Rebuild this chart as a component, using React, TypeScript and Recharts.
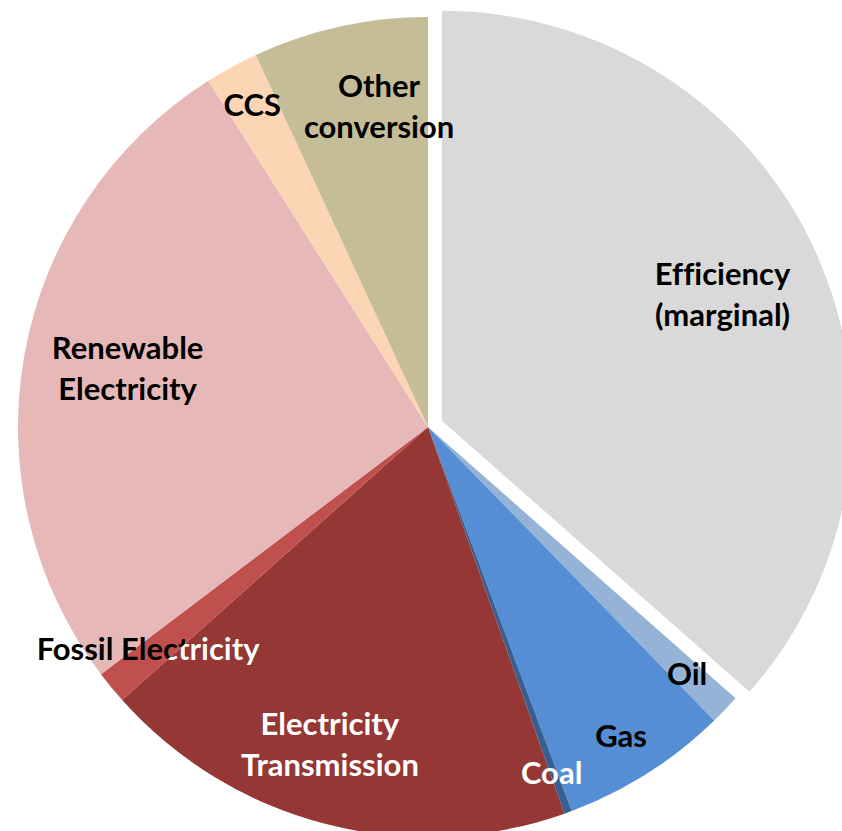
import React from 'react';
import { PieChart, Pie, Cell } from 'recharts';

// ---- data ----
const categories = [
  'Efficiency (marginal)',
  'Oil',
  'Gas',
  'Coal',
  'Electricity Transmission',
  'Fossil Electricity',
  'Renewable Electricity',
  'CCS',
  'Other conversion',
];
const shares = [36.5, 1.2, 6.6, 0.3, 18.8, 1.3, 26.3, 2.1, 6.9];
const labelLines = [
  ['Efficiency', '(marginal)'],
  ['Oil'],
  ['Gas'],
  ['Coal'],
  ['Electricity', 'Transmission'],
  ['Fossil Electricity'],
  ['Renewable', 'Electricity'],
  ['CCS'],
  ['Other', 'conversion'],
];

// ---- style ----
const COLORS = ['#D9D9D9', '#95B3D7', '#558ED5', '#376092', '#953735', '#C0504D', '#E6B9B8', '#FCD5B5', '#C4BD97'];
const LABEL_COLORS = ['#000', '#000', '#000', '#fff', '#fff', '#000', '#000', '#000', '#000'];
// radial fraction and pixel nudge for each label
const LABEL_POS = [
  { f: 0.751, dx: 0, dy: 0 },
  { f: 0.872, dx: 0, dy: 0 },
  { f: 0.888, dx: -2, dy: 1 },
  { f: 0.897, dx: -2, dy: 0 },
  { f: 0.805, dx: -16, dy: -2 },
  { f: 0.871, dx: -4, dy: -5 },
  { f: 0.747, dx: 1, dy: -4 },
  { f: 0.895, dx: 0, dy: 0 },
  { f: 0.793, dx: 21, dy: -3 },
];

const W = 842;
const H = 831;
const CX = 428;
const CY = 427;
const R = 410;
const EXPLODE = 15.3;
const FONT = 'Lato, "Open Sans", sans-serif';
const FS = 31;
const LINE_H = 41;
const RAD = Math.PI / 180;

const allData = categories.map((name, i) => ({ name, value: shares[i] }));
const total = shares.reduce((a, b) => a + b, 0);
const restValue = total - shares[0];
const explodedData = [
  { name: categories[0], value: shares[0] },
  { name: '__rest', value: restValue },
];
const effMid = ((shares[0] / total) * 360) / 2; // clockwise from top
const CX2 = CX + EXPLODE * Math.sin(effMid * RAD);
const CY2 = CY - EXPLODE * Math.cos(effMid * RAD);

const renderLabel = (props: any) => {
  const { cx, cy, midAngle, outerRadius, startAngle } = props;
  const name = props.payload?.name ?? props.name;
  const i = categories.indexOf(name);
  if (i < 0) return null;
  const pos = LABEL_POS[i];
  const r = outerRadius * pos.f;
  const x = cx + r * Math.cos(-midAngle * RAD) + pos.dx;
  const y = cy + r * Math.sin(-midAngle * RAD) + pos.dy;
  const lines = labelLines[i];
  const base = y + FS * 0.36 - ((lines.length - 1) / 2) * LINE_H;
  const mk = (fill: string, clip?: string) => (
    <text
      textAnchor="middle"
      fontFamily={FONT}
      fontWeight={700}
      fontSize={FS}
      fill={fill}
      clipPath={clip}
      style={{ fontVariantLigatures: 'none', fontFeatureSettings: '"liga" 0, "clig" 0' }}
    >
      {lines.map((l, k) => (
        <tspan key={k} x={x} y={base + k * LINE_H}>
          {l}
        </tspan>
      ))}
    </text>
  );
  if (name === 'Fossil Electricity') {
    // part of the label lying over the transmission slice is white
    const far = 1200;
    const pts = [0, 40, 80, 120]
      .map((d) => {
        const a = (startAngle + d) * RAD;
        return `${cx + far * Math.cos(a)},${cy - far * Math.sin(a)}`;
      })
      .join(' ');
    return (
      <g>
        <defs>
          <clipPath id="fossil-clip">
            <polygon points={`${cx},${cy} ${pts}`} />
          </clipPath>
        </defs>
        {mk('#000')}
        {mk('#fff', 'url(#fossil-clip)')}
      </g>
    );
  }
  return mk(LABEL_COLORS[i]);
};

const renderMainLabel = (props: any) => {
  const name = props.payload?.name ?? props.name;
  if (name === categories[0]) return null;
  return renderLabel(props);
};

const renderExplodedLabel = (props: any) => {
  const name = props.payload?.name ?? props.name;
  if (name !== categories[0]) return null;
  return renderLabel(props);
};

export default function App() {
  return (
    <div
      style={{
        position: 'fixed',
        left: 0,
        top: 0,
        width: W,
        height: H,
        overflow: 'hidden',
        background: '#fff',
      }}
    >
      <PieChart width={W} height={H} margin={{ top: 0, right: 0, bottom: 0, left: 0 }}>
        <Pie
          data={explodedData}
          dataKey="value"
          nameKey="name"
          cx={CX2}
          cy={CY2}
          outerRadius={R}
          startAngle={90}
          endAngle={-270}
          stroke="none"
          labelLine={false}
          label={renderExplodedLabel}
          isAnimationActive={false}
        >
          <Cell fill={COLORS[0]} stroke="none" />
          <Cell fill="none" stroke="none" />
        </Pie>
        <Pie
          data={allData}
          dataKey="value"
          nameKey="name"
          cx={CX}
          cy={CY}
          outerRadius={R}
          startAngle={90}
          endAngle={-270}
          stroke="none"
          labelLine={false}
          label={renderMainLabel}
          isAnimationActive={false}
        >
          {allData.map((d, i) => (
            <Cell key={d.name} fill={i === 0 ? 'none' : COLORS[i]} stroke="none" />
          ))}
        </Pie>
      </PieChart>
    </div>
  );
}
